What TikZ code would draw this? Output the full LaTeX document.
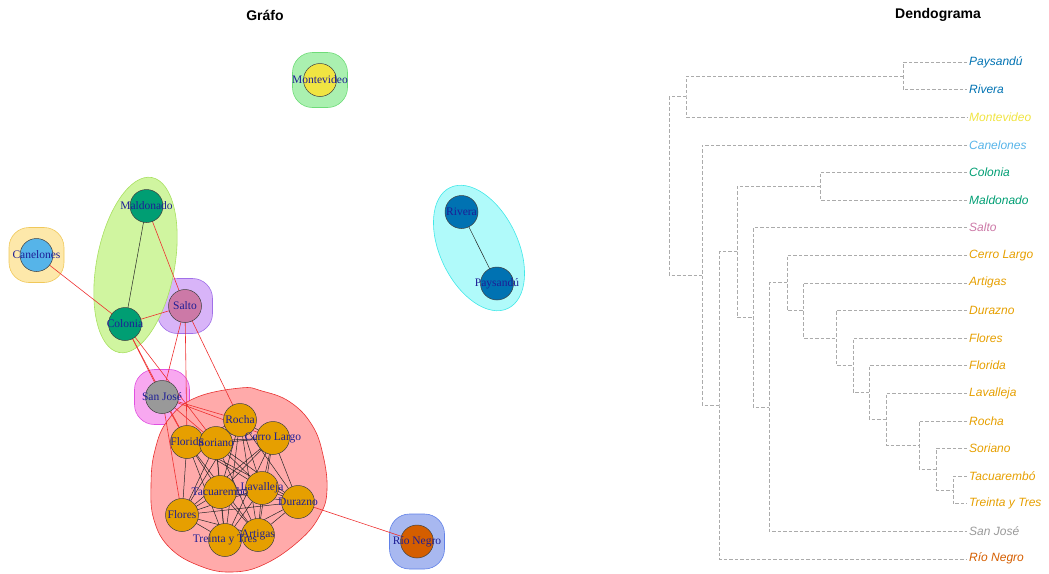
\documentclass[tikz,border=0pt]{standalone}
\usepackage{fontspec}
\setmainfont{Liberation Serif}
\setsansfont{Liberation Sans}
\usetikzlibrary{shapes.geometric}

% paleta de los grupos
\definecolor{azul}{HTML}{0072B2}
\definecolor{amarillo}{HTML}{F0E442}
\definecolor{celeste}{HTML}{56B4E9}
\definecolor{verde}{HTML}{009E73}
\definecolor{rosa}{HTML}{CC79A7}
\definecolor{naranja}{HTML}{E69F00}
\definecolor{gris}{HTML}{999999}
\definecolor{rojizo}{HTML}{D55E00}
\definecolor{rojo}{HTML}{EE3030}
\definecolor{etiqueta}{HTML}{1E1E96}

\tikzset{
  vert/.style={circle,draw=black!75,line width=0.5pt,minimum size=33pt,inner sep=0pt},
  etiq/.style={text=etiqueta,font=\fontsize{11.5}{12}\selectfont,inner sep=0pt},
  grupo/.style={rounded corners=20pt,minimum size=55pt,line width=0.6pt},
  interna/.style={draw=black!85,line width=0.5pt},
  externa/.style={draw=rojo,line width=0.6pt},
  rama/.style={draw=black!33,line width=0.6pt,dash pattern=on 3.5pt off 2pt},
  hoja/.style={anchor=west,inner sep=2pt,font=\sffamily\itshape\fontsize{12}{14}\selectfont},
  titulo/.style={font=\sffamily\bfseries\fontsize{14}{16}\selectfont},
}

\begin{document}
\begin{tikzpicture}[x=1pt,y=-1pt]
\useasboundingbox (0,0) rectangle (1049,573);

\node[titulo] (tgrafo) at (265,15) {Gráfo};
\node[titulo] (tdendo) at (938,15) {Dendograma};

% posiciones del grafo
\coordinate (mv) at (320,80);
\coordinate (ca) at (36.5,255);
\coordinate (ma) at (146.5,206);
\coordinate (co) at (125,324);
\coordinate (sa) at (185,306);
\coordinate (sj) at (162,397);
\coordinate (ri) at (461.5,212);
\coordinate (pa) at (497,283.5);
\coordinate (rn) at (417,541.5);
\coordinate (ro) at (240,420);
\coordinate (fl) at (187,442);
\coordinate (so) at (216,443);
\coordinate (cl) at (273,438);
\coordinate (ta) at (220,492);
\coordinate (la) at (262,488);
\coordinate (du) at (298,502);
\coordinate (fs) at (182,515);
\coordinate (tt) at (225,540);
\coordinate (ar) at (258,535);

% grupos
\node[grupo,fill={rgb,255:red,170;green,240;blue,176},draw={rgb,255:red,110;green,220;blue,120}] (g-mv) at (mv) {};
\node[grupo,fill={rgb,255:red,253;green,232;blue,170},draw={rgb,255:red,240;green,200;blue,90}] (g-ca) at (ca) {};
\node[grupo,fill={rgb,255:red,216;green,180;blue,248},draw={rgb,255:red,160;green,112;blue,232}] (g-sa) at (sa) {};
\node[grupo,fill={rgb,255:red,248;green,168;blue,240},draw={rgb,255:red,224;green,80;blue,224}] (g-sj) at (sj) {};
\node[grupo,fill={rgb,255:red,168;green,184;blue,240},draw={rgb,255:red,96;green,128;blue,232}] (g-rn) at (rn) {};
\node[ellipse,minimum width=178pt,minimum height=78pt,rotate=79.4,line width=0.6pt,
  fill={rgb,255:red,208;green,245;blue,160},draw={rgb,255:red,168;green,224;blue,96}] (g-mc) at (135.5,265) {};
\node[ellipse,minimum width=134pt,minimum height=78pt,rotate=115.6,line width=0.6pt,
  fill={rgb,255:red,176;green,250;blue,250},draw={rgb,255:red,64;green,232;blue,232}] (g-rp) at (479,248) {};
\draw[line width=0.6pt,fill={rgb,255:red,255;green,170;blue,170},draw={rgb,255:red,232;green,48;blue,48}]
  plot[smooth cycle,tension=0.7] coordinates {(240,388) (262,391) (290,402) (312,425) (323,455)
  (327,490) (320,515) (300,540) (265,564) (232,572) (200,566) (170,548) (154,520) (151,485)
  (155,450) (168,420) (195,398)};

% aristas
\draw[interna] (ma) -- (co);
\draw[interna] (ri) -- (pa);
\foreach \a [count=\i] in {ro,fl,so,cl,ta,la,du,fs,tt,ar}
  \foreach \b [count=\j] in {ro,fl,so,cl,ta,la,du,fs,tt,ar}
    {\ifnum\j>\i \draw[interna] (\a) -- (\b); \fi}
\foreach \a/\b in {ca/co,ma/sa,co/sa,co/sj,co/fl,co/so,sa/sj,sa/fl,sa/ro,
  sj/ro,sj/cl,sj/so,sj/fl,sj/fs,du/rn}
  \draw[externa] (\a) -- (\b);

% vertices
\foreach \n/\c in {mv/amarillo,ca/celeste,ma/verde,co/verde,sa/rosa,sj/gris,ri/azul,pa/azul,
  rn/rojizo,ro/naranja,fl/naranja,so/naranja,cl/naranja,ta/naranja,la/naranja,du/naranja,
  fs/naranja,tt/naranja,ar/naranja}
  \node[vert,fill=\c] (v-\n) at (\n) {};
\foreach \n/\t in {mv/Montevideo,ca/Canelones,ma/Maldonado,co/Colonia,sa/Salto,sj/San José,
  ri/Rivera,pa/Paysandú,rn/Río Negro,ro/Rocha,fl/Florida,so/Soriano,cl/Cerro Largo,
  ta/Tacuarembó,la/Lavalleja,du/Durazno,fs/Flores,tt/Treinta y Tres,ar/Artigas}
  \node[etiq] (t-\n) at (\n) {\t};

% hojas del dendograma
\foreach \n/\t/\c [count=\i from 0] in {pa/Paysandú/azul,ri/Rivera/azul,mv/Montevideo/amarillo,
  ca/Canelones/celeste,co/Colonia/verde,ma/Maldonado/verde,sa/Salto/rosa,cl/Cerro Largo/naranja,
  ar/Artigas/naranja,du/Durazno/naranja,fs/Flores/naranja,fl/Florida/naranja,la/Lavalleja/naranja,
  ro/Rocha/naranja,so/Soriano/naranja,ta/Tacuarembó/naranja,tt/Treinta y Tres/naranja,
  sj/San José/gris,rn/Río Negro/rojizo}
  \node[hoja,text=\c] (h-\n) at (967,{62+27.6*\i}) {\t};

% uniones
\coordinate (d1) at (903,75.8);
\coordinate (d2) at (686,96.5);
\coordinate (d3) at (820,186.2);
\coordinate (d4) at (953,489.8);
\coordinate (d5) at (936,469.1);
\coordinate (d6) at (919,445);
\coordinate (d7) at (886,419.1);
\coordinate (d8) at (869,392.3);
\coordinate (d9) at (853,365.2);
\coordinate (d10) at (836,337.8);
\coordinate (d11) at (803,310.3);
\coordinate (d12) at (787,282.7);
\coordinate (d13) at (769,407);
\coordinate (d14) at (753,317.3);
\coordinate (d15) at (737,251.7);
\coordinate (d16) at (719,405.3);
\coordinate (d17) at (702,275);
\coordinate (d18) at (669,185.8);

\draw[rama] (h-pa.west) -| (d1) |- (h-ri.west);
\draw[rama] (d1) -| (d2) |- (h-mv.west);
\draw[rama] (h-co.west) -| (d3) |- (h-ma.west);
\draw[rama] (h-ta.west) -| (d4) |- (h-tt.west);
\draw[rama] (h-so.west) -| (d5) |- (d4);
\draw[rama] (h-ro.west) -| (d6) |- (d5);
\draw[rama] (h-la.west) -| (d7) |- (d6);
\draw[rama] (h-fl.west) -| (d8) |- (d7);
\draw[rama] (h-fs.west) -| (d9) |- (d8);
\draw[rama] (h-du.west) -| (d10) |- (d9);
\draw[rama] (h-ar.west) -| (d11) |- (d10);
\draw[rama] (h-cl.west) -| (d12) |- (d11);
\draw[rama] (d12) -| (d13) |- (h-sj.west);
\draw[rama] (h-sa.west) -| (d14) |- (d13);
\draw[rama] (d3) -| (d15) |- (d14);
\draw[rama] (d15) -| (d16) |- (h-rn.west);
\draw[rama] (h-ca.west) -| (d17) |- (d16);
\draw[rama] (d2) -| (d18) |- (d17);
\end{tikzpicture}
\end{document}
